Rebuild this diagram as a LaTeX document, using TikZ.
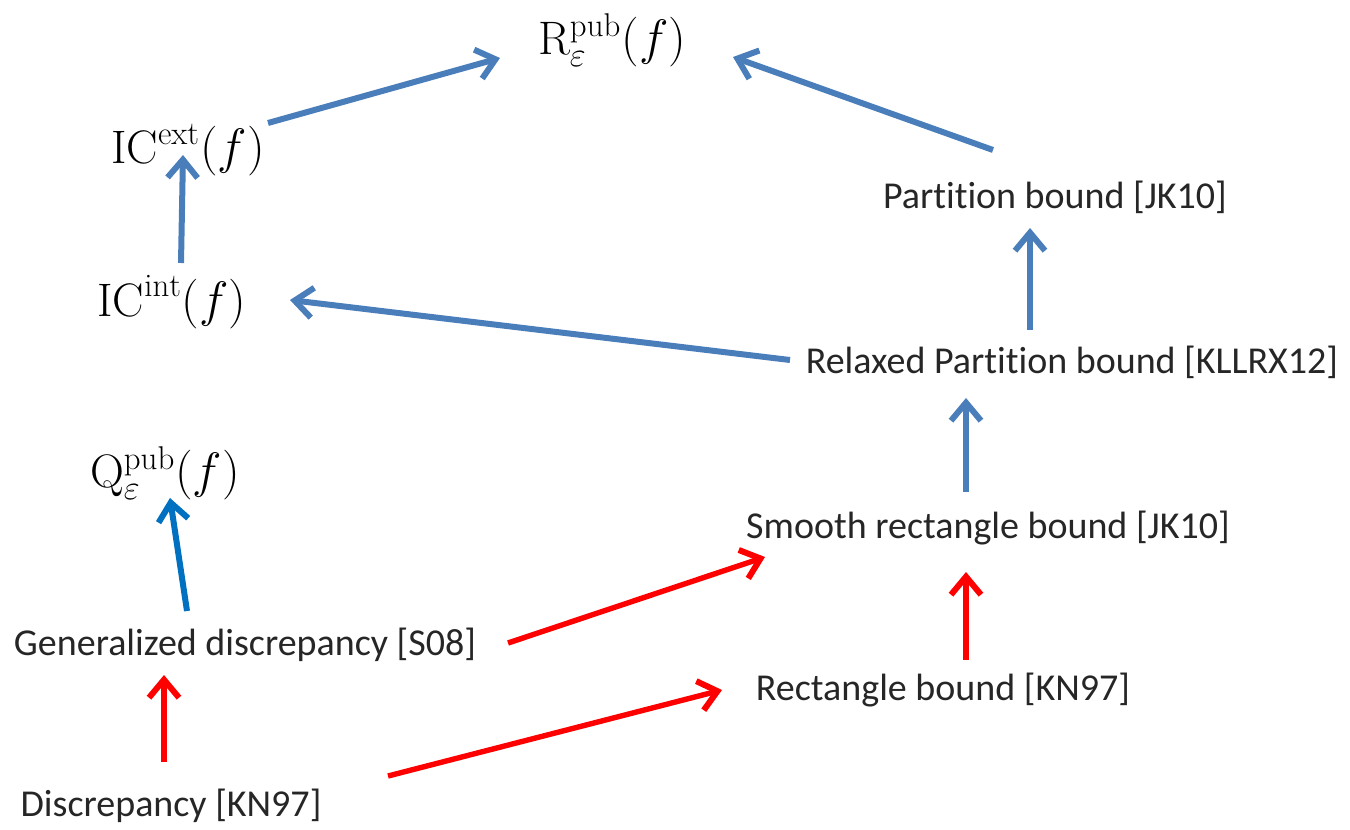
\documentclass[tikz,border=0pt]{standalone}
\usepackage{fontspec}
\setsansfont{Carlito}[RawFeature={-liga;-clig;-dlig;-calt;-rlig}]
\usetikzlibrary{arrows.meta,calc}
\definecolor{pblue}{RGB}{74,126,187}
\definecolor{qblue}{RGB}{0,112,192}
\definecolor{pred}{RGB}{255,0,0}
\tikzset{
  txt/.style={font=\sffamily\fontsize{19}{23}\selectfont, inner sep=0pt, text=black!85},
  mth/.style={font=\fontsize{23.5}{28}\selectfont, inner sep=0pt},
  arr/.style={line width=3pt, -{Straight Barb[length=9pt,width=15pt,line width=3pt]}},
  barr/.style={arr, draw=pblue},
  qarr/.style={arr, draw=qblue},
  rarr/.style={arr, draw=pred, line width=2.7pt},
}
\begin{document}
\begin{tikzpicture}[x=0.5pt,y=-0.5pt]
\useasboundingbox (0,0) rectangle (1350,830);
\node[mth] (R) at (612,40) {$\mathrm{R}^{\mathrm{pub}}_{\varepsilon}(f)$};
\node[mth] (icext) at (188,150) {$\mathrm{IC}^{\mathrm{ext}}(f)$};
\node[mth] (icint) at (172,302) {$\mathrm{IC}^{\mathrm{int}}(f)$};
\node[mth] (Q) at (165,473) {$\mathrm{Q}^{\mathrm{pub}}_{\varepsilon}(f)$};
\node[txt] (part) at (1055,197) {Partition bound [JK10]};
\node[txt] (relax) at (1072,362) {Relaxed Partition bound [KLLRX12]};
\node[txt] (smooth) at (988,528) {Smooth rectangle bound [JK10]};
\node[txt] (gen) at (245,645) {Generalized discrepancy [S08]};
\node[txt] (rect) at (943,690) {Rectangle bound [KN97]};
\node[txt] (disc) at (171,806) {Discrepancy [KN97]};

\draw[barr] ($(icext)+(80,-27)$) -- ($(R)+(-112,18)$);
\draw[barr] ($(part)+(-62,-47)$) -- ($(R)+(121,17)$);
\draw[barr] ($(icint)+(9,-39)$) -- ($(icext)+(-5,5)$);
\draw[barr] ($(relax)+(-282,-2)$) -- ($(icint)+(118,-2)$);
\draw[barr] ($(relax)+(-42,-32)$) -- ($(part)+(-25,31)$);
\draw[barr] ($(smooth)+(-22,-36)$) -- ($(relax)+(-106,36)$);
\draw[qarr] ($(gen)+(-58,-34)$) -- ($(Q)+(5,25)$);
\draw[rarr] ($(gen)+(263,-2)$) -- ($(smooth)+(-223,29)$);
\draw[rarr] ($(rect)+(23,-30)$) -- ($(smooth)+(-22,44)$);
\draw[rarr] ($(disc)+(-7,-44)$) -- ($(gen)+(-81,30)$);
\draw[rarr] ($(disc)+(217,-30)$) -- ($(rect)+(-221,0)$);
\end{tikzpicture}
\end{document}
